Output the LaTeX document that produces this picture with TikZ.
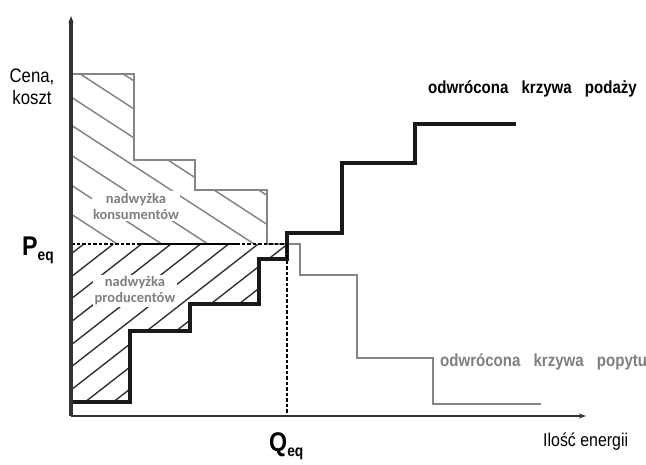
\documentclass[tikz,border=0pt]{standalone}
\usepackage{fontspec}
\setmainfont{Liberation Sans}
\newfontfamily\narrowfont[FakeStretch=0.86]{Liberation Sans}
\newfontfamily\calib{Carlito}
\usetikzlibrary{arrows.meta}
\definecolor{axisgray}{HTML}{333333}
\definecolor{demgray}{HTML}{858585}
\definecolor{txtgray}{HTML}{7F7F7F}
\tikzset{
  axisline/.style={draw=axisgray, line width=3.2pt, -{Stealth[length=7pt,width=5pt]}},
  demand/.style={draw=demgray, line width=2.8pt, line join=miter},
  supply/.style={draw=black!90, line width=3.2pt, line join=miter},
  eqline/.style={draw=black, line width=1.8pt, dash pattern=on 3.5pt off 2pt},
  hatchc/.style={draw=demgray, line width=1.5pt},
  hatchp/.style={draw=axisgray, line width=1.4pt},
  surplus/.style={font=\calib\bfseries\fontsize{14.5}{16}\selectfont, text=txtgray, fill=white, align=center, inner sep=1.5pt},
  lab/.style={font=\narrowfont\fontsize{19.5}{22}\selectfont, align=center, inner sep=0pt},
  curvelab/.style={font=\narrowfont\bfseries\fontsize{17.5}{20}\selectfont, anchor=base west, inner sep=0pt},
  eqlab/.style={inner sep=0pt, anchor=base west}
}
\begin{document}
\begin{tikzpicture}[x=1pt,y=-1pt]
\useasboundingbox (0,0) rectangle (646,464);
% consumer surplus hatching
\begin{scope}
  \clip (71,74) -- (134,74) -- (134,160) -- (195,160) -- (195,190) -- (267,190) -- (267,244) -- (71,244) -- cycle;
  \foreach \yy in {40,68,97,125,155,185,214,243,272,301,330,359}
    \draw[hatchc] (71,\yy) -- ++(260,169);
\end{scope}
% producer surplus hatching
\begin{scope}
  \clip (71,244) -- (287,244) -- (287,259) -- (259,259) -- (259,304) -- (190,304) -- (190,331) -- (130,331) -- (130,402) -- (71,402) -- cycle;
  \foreach \yy in {254,277,299,322,345,367,390,413,435,458}
    \draw[hatchp] (71,\yy) -- ++(300,-234);
\end{scope}
% surplus labels
\node[surplus] (cs) at (136,206) {nadwyżka\\konsumentów};
\node[surplus] (ps) at (135,291) {nadwyżka\\producentów};
% coordinates
\coordinate (O) at (71,416);
\coordinate (ytop) at (71,16);
\coordinate (xend) at (586,416);
\coordinate (peqL) at (71,244);
\coordinate (eqpt) at (287,244);
\coordinate (qeqB) at (287,416);
\coordinate (solA) at (137,244);
\coordinate (solB) at (237,244);
% demand curve
\draw[demand] (71,74) -- (134,74) -- (134,160) -- (195,160) -- (195,190) -- (267,190) -- (267,244) -- (300,244) -- (300,275) -- (357,275) -- (357,358) -- (433,358) -- (433,404) -- (541,404);
% supply curve
\draw[supply] (71,402) -- (130,402) -- (130,331) -- (190,331) -- (190,304) -- (259,304) -- (259,259) -- (287,259) -- (287,233) -- (342,233) -- (342,163) -- (415,163) -- (415,124) -- (516,124);
% equilibrium lines
\draw[eqline] (peqL) -- (eqpt);
\draw[draw=black, line width=1.8pt] (solA) -- (solB);
\draw[eqline] (eqpt) -- (qeqB);
% axes
\draw[axisline] (O) -- (ytop);
\draw[axisline, line width=2.6pt] (O) -- (xend);
% labels
\node[lab] (cena) at (32,87) {Cena,\\koszt};
\node[font=\narrowfont\fontsize{18.5}{20}\selectfont, anchor=base west, inner sep=0pt] (ilosc) at (543,446) {Ilość energii};
\node[curvelab] (sup) at (428,93) {odwrócona\hspace{0.75em}krzywa\hspace{0.75em}podaży};
\node[curvelab, text=txtgray] (dem) at (440,366) {odwrócona\hspace{0.75em}krzywa\hspace{0.75em}popytu};
\node[eqlab] (peq) at (22,255) {\narrowfont\bfseries\fontsize{27}{27}\selectfont P\raisebox{-5pt}{\fontsize{16}{16}\selectfont eq}};
\node[eqlab] (qeq) at (269,451) {\narrowfont\bfseries\fontsize{27}{27}\selectfont Q\raisebox{-5pt}{\fontsize{16}{16}\selectfont eq}};
\end{tikzpicture}
\end{document}
